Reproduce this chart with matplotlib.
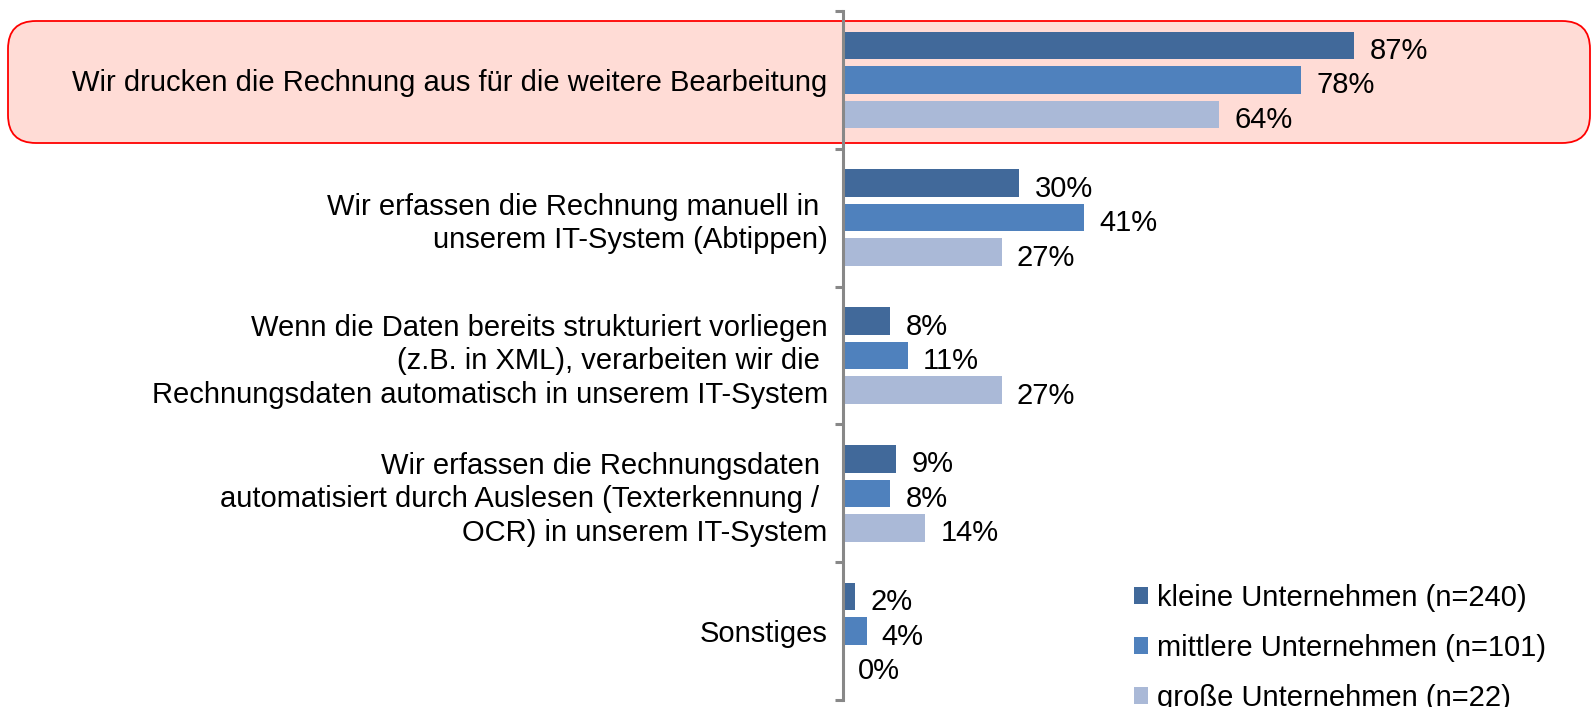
import numpy as np
import matplotlib.pyplot as plt
from matplotlib.patches import FancyBboxPatch

# Survey answers, top to bottom
categories = [
    "Wir drucken die Rechnung aus für die weitere Bearbeitung",
    "Wir erfassen die Rechnung manuell in \nunserem IT-System (Abtippen)",
    "Wenn die Daten bereits strukturiert vorliegen\n(z.B. in XML), verarbeiten wir die \nRechnungsdaten automatisch in unserem IT-System",
    "Wir erfassen die Rechnungsdaten \nautomatisiert durch Auslesen (Texterkennung / \nOCR) in unserem IT-System",
    "Sonstiges",
]
series_names = [
    "kleine Unternehmen (n=240)",
    "mittlere Unternehmen (n=101)",
    "große Unternehmen (n=22)",
]
kleine = [87, 30, 8, 9, 2]
mittlere = [78, 41, 11, 8, 4]
grosse = [64, 27, 27, 14, 0]

colors = ["#41699A", "#4F81BD", "#AAB9D7"]

plt.rcParams['font.family'] = ['Liberation Sans', 'DejaVu Sans']
FS = 21

W, H = 1593, 707
fig = plt.figure(figsize=(W / 100, H / 100), dpi=100)

# axes placed in pixel terms
ax_left, ax_top, ax_bottom = 843, 11, 700
ax = fig.add_axes([ax_left / W, (H - ax_bottom) / H, 587.5 / W, (ax_bottom - ax_top) / H])
ax.patch.set_alpha(0)

# highlight box behind the first category
box = FancyBboxPatch((0.08, (H - 143) / 100), 15.82, 1.22,
                     boxstyle="round,pad=0,rounding_size=0.28",
                     transform=fig.dpi_scale_trans, facecolor="#FFDCD6",
                     edgecolor="#FF0000", linewidth=1.3, zorder=-1)
fig.patches.append(box)

y = np.arange(len(categories))
offsets = [-0.25, 0, 0.25]
bars = []
for vals, off, c, name in zip([kleine, mittlere, grosse], offsets, colors, series_names):
    b = ax.barh(y + off, vals, height=0.2, color=c, label=name)
    bars.append(b)
    for yi, v in zip(y + off, vals):
        ax.annotate(f"{v}%", (v, yi), xytext=(11, -4), textcoords="offset points",
                    va="center", ha="left", fontsize=FS)

ax.set_xlim(0, 100)
ax.set_ylim(len(categories) - 0.5, -0.5)

ax.set_yticks(y)
ax.set_yticklabels(categories, fontsize=FS, linespacing=1.25)
ax.tick_params(axis="y", which="major", length=0, pad=11)
ax.set_yticks(np.arange(len(categories) + 1) - 0.5, minor=True)
ax.tick_params(axis="y", which="minor", length=6, width=2.2, color="#888888", direction="out")
ax.set_xticks([])

for s in ["top", "right", "bottom"]:
    ax.spines[s].set_visible(False)
ax.spines["left"].set_color("#888888")
ax.spines["left"].set_linewidth(2.2)

fig.legend(handles=bars, loc="upper left", bbox_to_anchor=(1122 / W, (H - 572) / H),
           frameon=False, fontsize=FS, handlelength=0.5, handleheight=0.5,
           handletextpad=0.3, labelspacing=0.76, borderaxespad=0)

plt.savefig("out.png", dpi=100)
